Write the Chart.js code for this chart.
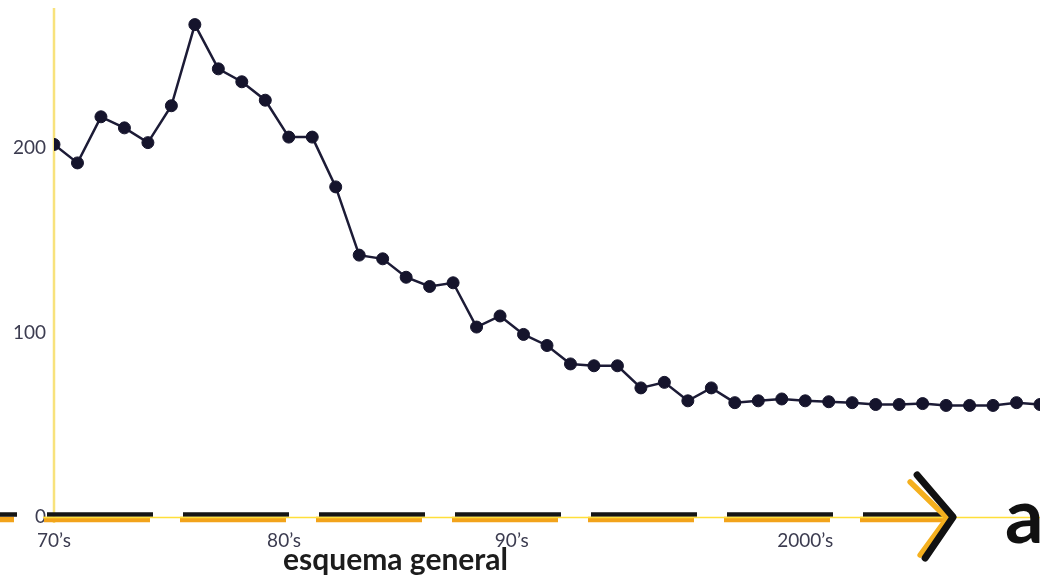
<!DOCTYPE html>
<html>
<head>
<meta charset="utf-8">
<script src="https://cdn.jsdelivr.net/npm/chart.js@4"></script>
<style>
  html, body { margin: 0; padding: 0; background: #ffffff; }
  #wrap { width: 1040px; height: 582px; position: relative; }
</style>
</head>
<body>
<div id="wrap"><canvas id="trend"></canvas></div>
<script>
"use strict";

// yearly readings, one per point along the timeline
const readings = [
  202, 192, 217, 211, 203, 223, 267, 243, 236, 226,
  206, 206, 179, 142, 140, 130, 125, 127, 103, 109,
  99, 93, 83, 82, 82, 70, 73, 63, 70, 62,
  63, 64, 63, 62.5, 62, 61, 61, 61.5, 60.5, 60.5,
  60.5, 62, 61
];

// decade labels and where they sit on the timeline (point index)
const decadeLabels = ["70’s", "80’s", "90’s", "2000’s"];
const decadeAt = [0, 9.8, 19.5, 32];

const yTicks = [0, 100, 200];
const yMax = 276;

// timeline arrow ends here (point index)
const arrowTipAt = 38.3;

const axisTitle = "esquema general";
const axisLetter = "a";

const points = readings.map((v, i) => ({ x: i, y: v }));

// yellow axes, the dashed black/orange rule with its arrow head, and the axis texts
const axisDecor = {
  id: "axisDecor",
  beforeDatasetsDraw(chart) {
    const { ctx, chartArea: area, scales } = chart;
    const y0 = area.bottom;
    const tip = scales.x.getPixelForValue(arrowTipAt);

    ctx.save();

    // pale vertical axis
    ctx.strokeStyle = "#f8e27c";
    ctx.lineWidth = 2.5;
    ctx.beginPath();
    ctx.moveTo(area.left, area.top);
    ctx.lineTo(area.left, y0 + 6);
    ctx.stroke();

    // dashed rule: orange underneath, black on top
    ctx.lineCap = "butt";
    ctx.setLineDash([106, 30]);
    ctx.lineDashOffset = 89;

    ctx.strokeStyle = "#f2a31b";
    ctx.lineWidth = 5.5;
    ctx.beginPath();
    ctx.moveTo(-3, y0 + 2.5);
    ctx.lineTo(tip - 6, y0 + 2.5);
    ctx.stroke();

    ctx.strokeStyle = "#151515";
    ctx.lineWidth = 4.5;
    ctx.beginPath();
    ctx.moveTo(0, y0 - 2.5);
    ctx.lineTo(tip, y0 - 2.5);
    ctx.stroke();

    ctx.setLineDash([]);

    // thin yellow baseline
    ctx.strokeStyle = "#ffdf3a";
    ctx.lineWidth = 1.6;
    ctx.beginPath();
    ctx.moveTo(area.left - 11, y0 + 0.5);
    ctx.lineTo(area.right, y0 + 0.5);
    ctx.stroke();

    // arrow head
    ctx.lineCap = "round";
    ctx.lineJoin = "round";
    ctx.strokeStyle = "#f5b01e";
    ctx.lineWidth = 5.5;
    ctx.beginPath();
    ctx.moveTo(tip - 43, y0 - 35);
    ctx.lineTo(tip - 6, y0 + 1);
    ctx.lineTo(tip - 33, y0 + 38);
    ctx.stroke();

    ctx.strokeStyle = "#111111";
    ctx.lineWidth = 7;
    ctx.beginPath();
    ctx.moveTo(tip - 36, y0 - 42);
    ctx.lineTo(tip, y0);
    ctx.lineTo(tip - 28, y0 + 41);
    ctx.stroke();

    // axis texts
    ctx.fillStyle = "#1c1c1c";
    ctx.textAlign = "left";
    ctx.textBaseline = "alphabetic";
    ctx.font = "bold 30px Lato";
    ctx.fillText(axisTitle, area.left + 229, y0 + 53);

    ctx.fillStyle = "#111111";
    ctx.font = "bold 76px Lato";
    ctx.fillText(axisLetter, area.right - 35, y0 + 26);

    ctx.restore();
  },
};

new Chart(document.getElementById("trend"), {
  type: "line",
  data: {
    datasets: [
      {
        data: points,
        borderColor: "#1c1b36",
        borderWidth: 2.5,
        backgroundColor: "#15142c",
        pointBackgroundColor: "#15142c",
        pointBorderColor: "#15142c",
        pointBorderWidth: 1,
        pointRadius: 6,
        tension: 0,
      },
    ],
  },
  options: {
    responsive: true,
    maintainAspectRatio: false,
    animation: false,
    layout: { autoPadding: false, padding: { top: 8, right: 0, left: 0, bottom: 0 } },
    plugins: {
      legend: { display: false },
      tooltip: { enabled: false },
    },
    scales: {
      x: {
        type: "linear",
        min: 0,
        max: readings.length - 1,
        grid: { display: false, drawTicks: false },
        border: { display: false },
        afterBuildTicks(axis) {
          axis.ticks = decadeAt.map((v) => ({ value: v }));
        },
        afterFit(axis) {
          axis.height = 65;
          axis.paddingLeft = 0;
          axis.paddingRight = 0;
        },
        ticks: {
          autoSkip: false,
          maxRotation: 0,
          padding: 12,
          color: "#3c3c50",
          font: { family: "Lato", size: 19 },
          callback(value) {
            const i = decadeAt.indexOf(value);
            return i >= 0 ? decadeLabels[i] : "";
          },
        },
      },
      y: {
        min: 0,
        max: yMax,
        grid: { display: false, drawTicks: false },
        border: { display: false },
        afterBuildTicks(axis) {
          axis.ticks = yTicks.map((v) => ({ value: v }));
        },
        afterFit(axis) {
          axis.width = 54;
          axis.paddingTop = 0;
          axis.paddingBottom = 0;
        },
        ticks: {
          padding: 8,
          color: "#3c3c50",
          font: { family: "Lato", size: 19 },
        },
      },
    },
  },
  plugins: [axisDecor],
});
</script>
</body>
</html>
